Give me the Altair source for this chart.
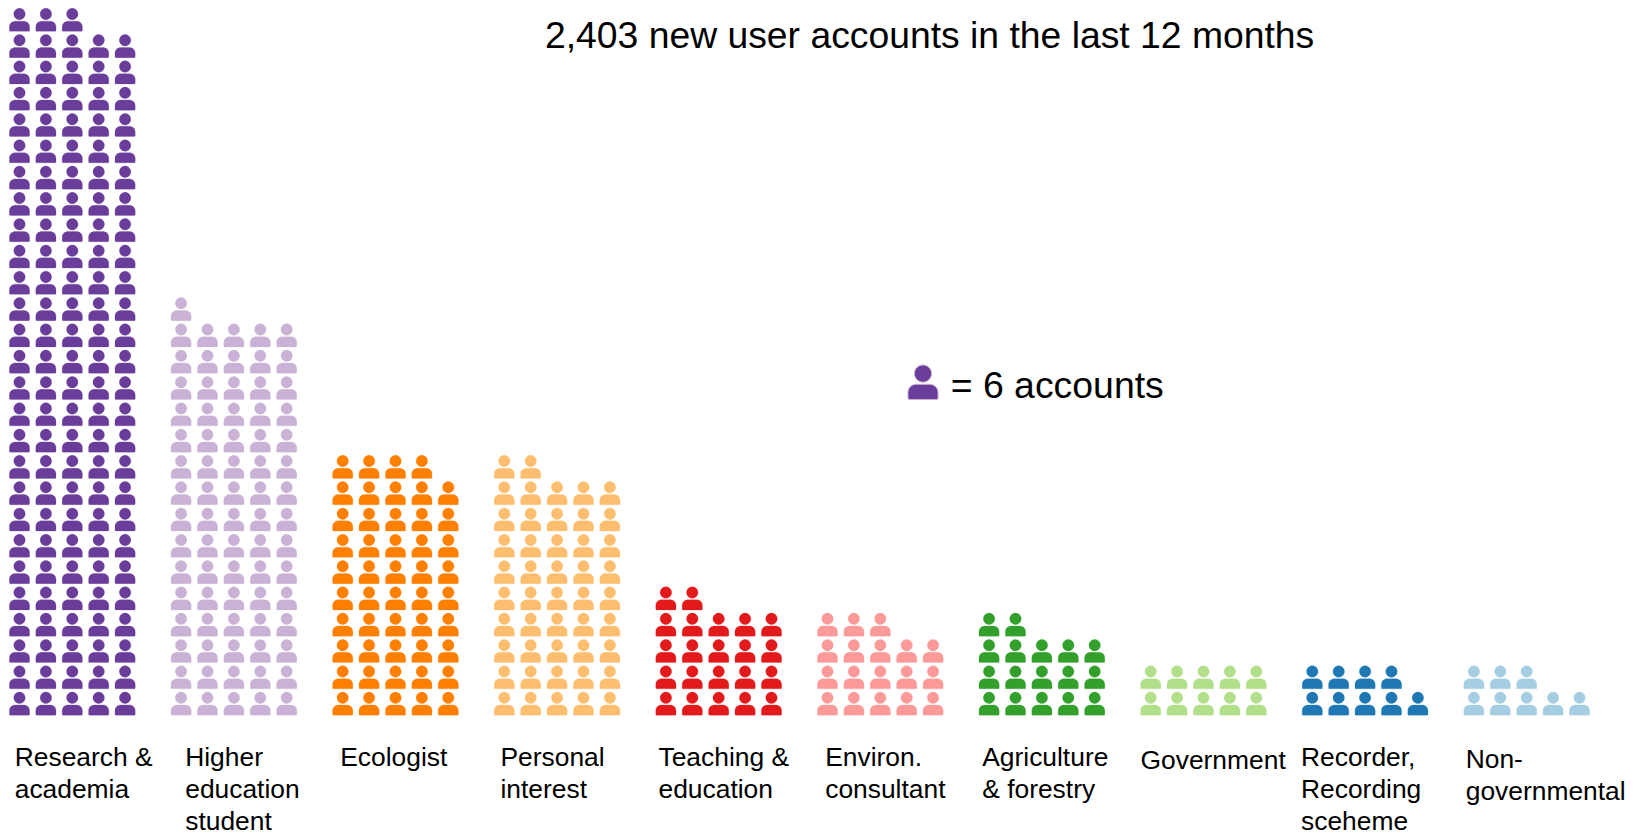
import altair as alt
import pandas as pd

CATEGORIES = ["Research & academia", "Higher education student", "Ecologist", "Personal interest",
              "Teaching & education", "Environ. consultant", "Agriculture & forestry", "Government",
              "Recorder, Recording sceheme", "Non-governmental"]
ICON_COUNTS = [133, 76, 49, 47, 22, 18, 17, 10, 9, 8]
COLORS = ["#6a3d9a", "#cab2d6", "#ff7f00", "#fdbf6f", "#e31a1c",
          "#fb9a99", "#33a02c", "#b2df8a", "#1f78b4", "#a6cee3"]
LABEL_LINES = [["Research &", "academia"], ["Higher", "education", "student"], ["Ecologist"],
               ["Personal", "interest"], ["Teaching &", "education"], ["Environ.", "consultant"],
               ["Agriculture", "& forestry"], ["Government"], ["Recorder,", "Recording", "sceheme"],
               ["Non-", "governmental"]]
TITLE = "2,403 new user accounts in the last 12 months"
KEY = "= 6 accounts"

# layout (page pixels minus the 8px margin)
W, H = 1625, 825
CELL_X, CELL_Y = 26.4, 26.3
PITCH = 161.6 / CELL_X
X0, Y0 = 11.5, 695.75
LABEL_X = [6.7, 177.2, 332.2, 492.5, 650.5, 817.2, 974.2, 1132.5, 1293.0, 1457.7]
LABEL_Y = [758, 758, 758, 758, 758, 758, 758, 761, 758, 760]

PERSON = ("M-0.78,0.97 L0.78,0.97 Q0.86,0.97 0.86,0.89 L0.86,0.58 C0.86,0.28 0.62,0.10 0.36,0.10 "
          "L-0.36,0.10 C-0.62,0.10 -0.86,0.28 -0.86,0.58 L-0.86,0.89 Q-0.86,0.97 -0.78,0.97 Z "
          "M-0.49,-0.51 A0.49,0.49 0 1,1 0.49,-0.51 A0.49,0.49 0 1,1 -0.49,-0.51 Z")

rows = []
for g, (cat, n) in enumerate(zip(CATEGORIES, ICON_COUNTS)):
    for i in range(n):
        rows.append({"category": cat, "x": g * PITCH + i % 5, "y": i // 5})
df = pd.DataFrame(rows)

x_scale = alt.Scale(domain=[-X0 / CELL_X, (W - X0) / CELL_X], nice=False, zero=False)
y_scale = alt.Scale(domain=[(Y0 - H) / CELL_Y, Y0 / CELL_Y], nice=False, zero=False)
cat_scale = alt.Scale(domain=CATEGORIES, range=COLORS)

icons = alt.Chart(df).mark_point(filled=True, shape=PERSON, size=552, opacity=1,
                                 strokeWidth=0.8, strokeOpacity=0.3).encode(
    x=alt.X("x:Q", scale=x_scale, axis=None),
    y=alt.Y("y:Q", scale=y_scale, axis=None),
    fill=alt.Fill("category:N", scale=cat_scale, legend=None),
    stroke=alt.Stroke("category:N", scale=cat_scale, legend=None),
)

FONT = "Liberation Sans"
layers = [icons]
for lines, lx, ly in zip(LABEL_LINES, LABEL_X, LABEL_Y):
    layers.append(
        alt.Chart(alt.Data(values=[{"t": "\n".join(lines)}])).mark_text(
            x=lx, y=ly, align="left", baseline="alphabetic", font=FONT, fontSize=26.4,
            lineBreak="\n", lineHeight=32, color="black"
        ).encode(text="t:N")
    )
layers.append(
    alt.Chart(alt.Data(values=[{"t": TITLE}])).mark_text(
        x=537, y=40, align="left", baseline="alphabetic", font=FONT, fontSize=37.3, color="black"
    ).encode(text="t:N")
)
layers.append(
    alt.Chart(alt.Data(values=[{"t": KEY}])).mark_text(
        x=942.7, y=390, align="left", baseline="alphabetic", font=FONT, fontSize=37.4, color="black"
    ).encode(text="t:N")
)
layers.append(
    alt.Chart(alt.Data(values=[{"t": "key"}])).mark_point(
        filled=True, shape=PERSON, size=1225, opacity=1, color=COLORS[0],
        x=915, y=374.5, stroke=COLORS[1], strokeWidth=1
    ).encode(detail="t:N")
)

chart = alt.layer(*layers).resolve_scale(color="independent").properties(
    width=W, height=H, padding=0, autosize=alt.AutoSizeParams(type="none"),
    background="white",
).configure_view(stroke=None)

chart.save("out.html", embed_options={"renderer": "svg", "actions": False})
